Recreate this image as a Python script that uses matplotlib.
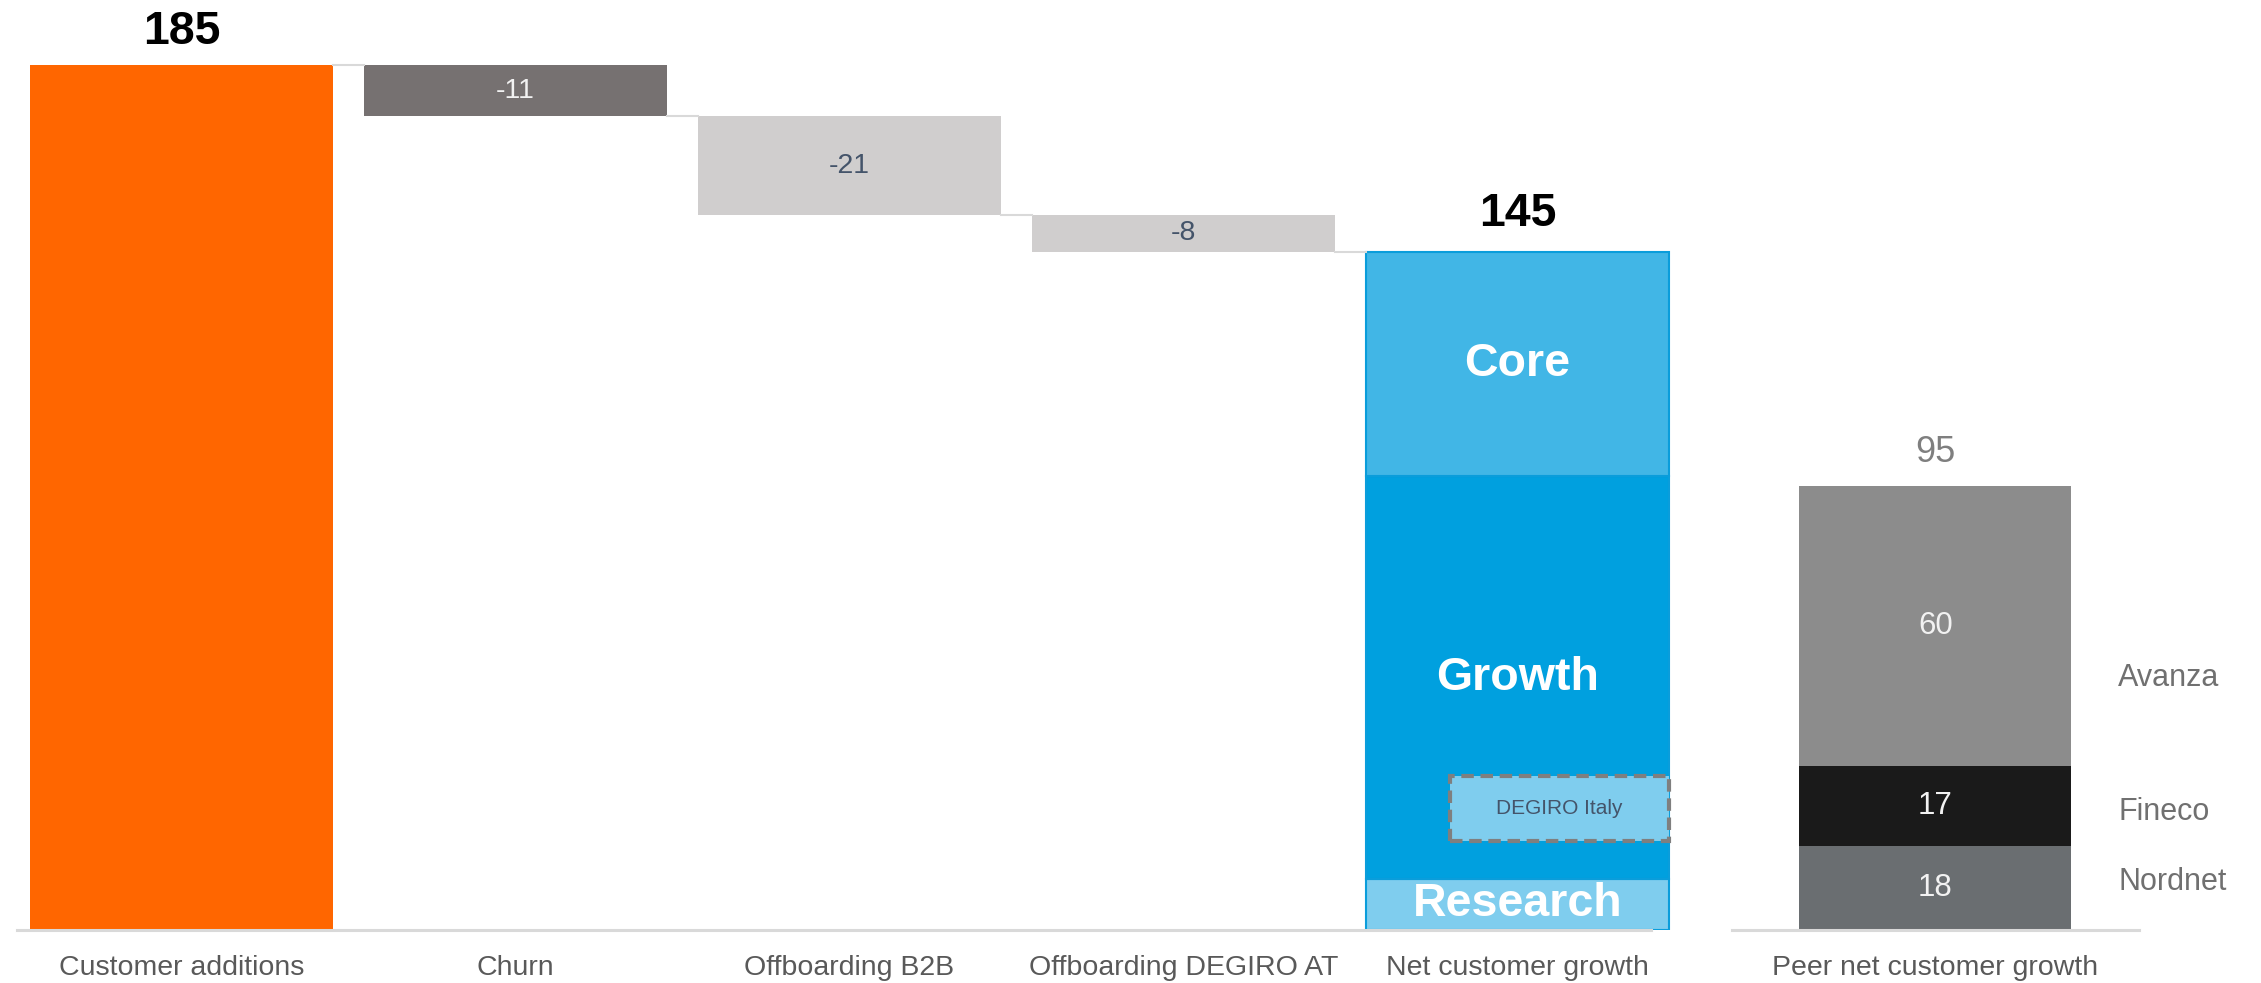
import matplotlib.pyplot as plt
from matplotlib.patches import Rectangle

plt.rcParams['font.family'] = ['Liberation Sans', 'DejaVu Sans']

# waterfall data (thousand customers)
categories = ['Customer additions', 'Churn', 'Offboarding B2B', 'Offboarding DEGIRO AT',
              'Net customer growth', 'Peer net customer growth']
start_value = 185
deltas = [-11, -21, -8]
end_value = 145

# split of the net growth bar
net_parts = ['Research', 'Growth', 'Core']
net_values = [11, 86, 48]
degiro_italy_base = 19
degiro_italy_value = 14

# peers
peer_names = ['Nordnet', 'Fineco', 'Avanza']
peer_values = [18, 17, 60]
peer_total = 95

ORANGE = '#ff6600'
DELTA_COLORS = ['#767171', '#d0cece', '#d0cece']
DELTA_TEXT = ['#f2f2f2', '#44546a', '#44546a']
NET_COLORS = {'Research': '#7fcdee', 'Growth': '#00a0df', 'Core': '#41b6e6'}
PEER_COLORS = ['#6a6e71', '#1a1a1a', '#8c8c8c']
LINE = '#d9d9d9'

fig = plt.figure(figsize=(22.61, 9.83), dpi=100)
ax = fig.add_axes([0, 53 / 983, 1, 930 / 983])
ax.set_xlim(-0.5434, 6.226)
ax.set_ylim(0, 198.9)
ax.axis('off')

w = 0.91
peer_x = 5.251
peer_w = 0.814

# first bar
ax.bar(0, start_value, width=w, color=ORANGE)
ax.annotate(str(start_value), (0, start_value), xytext=(0, 15), textcoords='offset points',
            ha='center', va='baseline', fontsize=33.5, fontweight='bold', color='black')

# negative steps
level = start_value
for i, d in enumerate(deltas):
    x = i + 1
    ax.plot([x - 1 + w / 2, x - w / 2], [level, level], color=LINE, lw=1.5)
    new_level = level + d
    ax.bar(x, -d, bottom=new_level, width=w, color=DELTA_COLORS[i])
    ax.text(x, new_level - d / 2, str(d), ha='center', va='center',
            fontsize=20.5, color=DELTA_TEXT[i])
    level = new_level

# net customer growth
ax.plot([3 + w / 2, 4 - w / 2], [level, level], color=LINE, lw=1.5)
bottom = 0
for name, v in zip(net_parts, net_values):
    ax.bar(4, v, bottom=bottom, width=w, color=NET_COLORS[name],
           edgecolor='#0a9ddb', linewidth=1.5)
    ax.text(4, bottom + v / 2, name, ha='center', va='center',
            fontsize=33.5, fontweight='bold', color='white')
    bottom += v
ax.annotate(str(end_value), (4, end_value), xytext=(0, 19), textcoords='offset points',
            ha='center', va='baseline', fontsize=33.5, fontweight='bold', color='black')

# DEGIRO Italy share inside growth
box_left = 3.797
box_right = 4 + w / 2
ax.add_patch(Rectangle((box_left, degiro_italy_base), box_right - box_left, degiro_italy_value,
                       facecolor='#7fcdee', edgecolor='#7f7f7f', linewidth=3,
                       linestyle=(0, (3, 1.6))))
ax.text((box_left + box_right) / 2, degiro_italy_base + degiro_italy_value / 2, 'DEGIRO Italy',
        ha='center', va='center', fontsize=15, color='#44546a')

# peer stack
bottom = 0
for name, v, c in zip(peer_names, peer_values, PEER_COLORS):
    ax.bar(peer_x, v, bottom=bottom, width=peer_w, color=c)
    ax.text(peer_x, bottom + v / 2, str(v), ha='center', va='center',
            fontsize=22.5, color='#f2f2f2')
    bottom += v
ax.annotate(str(peer_total), (peer_x, sum(peer_values)), xytext=(0, 17),
            textcoords='offset points', ha='center', va='baseline',
            fontsize=26, color='#7f7f7f')
for name, y in zip(peer_names, [10.3, 25.2, 53.9]):
    ax.text(5.798, y, name, ha='left', va='center', fontsize=22, color='#707070')

# baselines
ax.plot([-0.4934, 4.4], [0, 0], color=LINE, lw=2.2, clip_on=False)
ax.plot([4.642, 5.861], [0, 0], color=LINE, lw=2.2, clip_on=False)

# category labels
xs = [0, 1, 2, 3, 4, peer_x]
for x, label in zip(xs, categories):
    ax.text(x, -8.1, label, ha='center', va='center', fontsize=20.5,
            color='#595959', clip_on=False)

fig.savefig('out.png', dpi=100)
